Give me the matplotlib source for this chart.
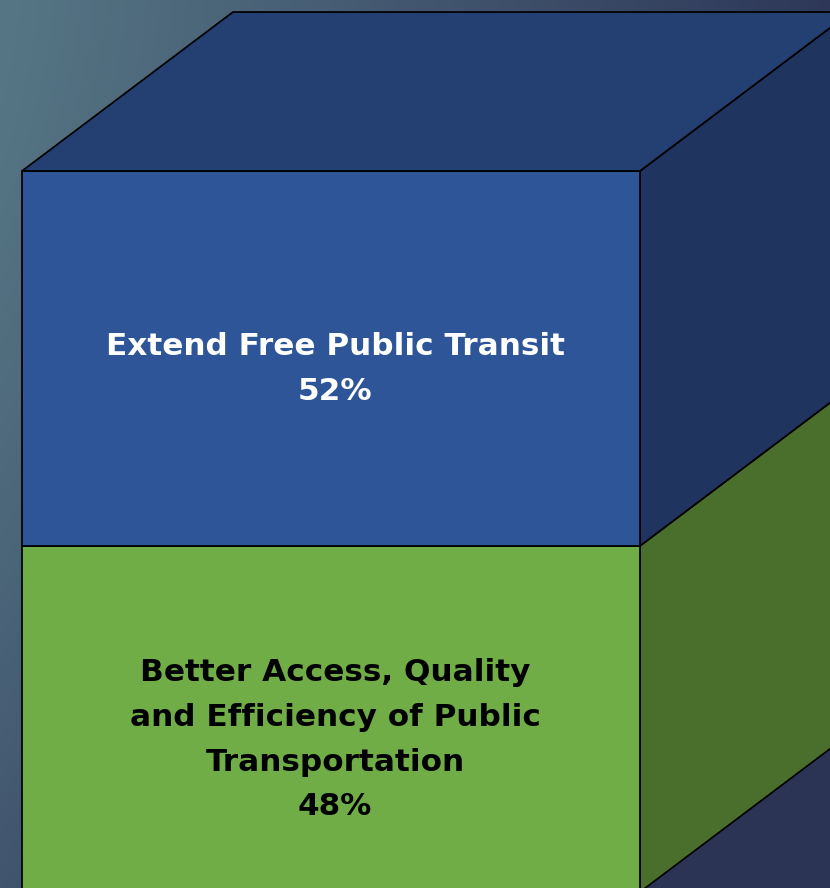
import numpy as np
import matplotlib
matplotlib.use("Agg")
import matplotlib.pyplot as plt
from matplotlib.patches import Polygon

# Survey result: share of respondents per priority (stacked 100% bar)
categories = [
    "Better Access, Quality\nand Efficiency of Public\nTransportation",
    "Extend Free Public Transit",
]
values = [48, 52]
front_colors = ["#70AD47", "#2E5597"]
side_colors = ["#4A6F2D", "#1F355F"]
top_color = "#243F71"
text_colors = ["black", "white"]
label_shift = [-2.9, -1.5]  # label nudge below segment middle, in percent units

W, H = 830, 888
fig = plt.figure(figsize=(W / 100, H / 100), dpi=100)
ax = fig.add_axes([0, 0, 1, 1])

# pixel-like horizontal units, percent on the vertical axis
px_per_pct = 7.21
y_bottom_px = 892
ax.set_xlim(0, W)
ax.set_ylim((y_bottom_px - H) / px_per_pct, y_bottom_px / px_per_pct)
ax.axis("off")

# background gradient (light teal at top-left, dark navy towards bottom-right)
gx, gy = np.meshgrid(np.linspace(0, 1, 400), np.linspace(0, 1, 400))
t = np.clip(0.95 * gx + 0.5 * gy ** 1.5, 0, 1)
c0 = np.array([86, 118, 133]) / 255
c1 = np.array([44, 52, 86]) / 255
grad = c0[None, None, :] * (1 - t[..., None]) + c1[None, None, :] * t[..., None]
y0, y1 = ax.get_ylim()
ax.imshow(grad, extent=(0, W, y0, y1), origin="upper", aspect="auto", zorder=0)

bar_left, bar_right = 22, 640
bar_center = (bar_left + bar_right) / 2
depth_x = 211
depth_y = 159 / px_per_pct
edge_kw = dict(edgecolor="black", linewidth=1.25)

bottoms = np.concatenate([[0], np.cumsum(values)[:-1]])
total = sum(values)

for v, b, fc, sc in zip(values, bottoms, front_colors, side_colors):
    side = Polygon([(bar_right, b), (bar_right + depth_x, b + depth_y),
                    (bar_right + depth_x, b + v + depth_y), (bar_right, b + v)],
                   closed=True, facecolor=sc, zorder=2, **edge_kw)
    ax.add_patch(side)

ax.bar(bar_center, values, bottom=bottoms, width=bar_right - bar_left,
       color=front_colors, zorder=3, **edge_kw)

top = Polygon([(bar_left, total), (bar_right, total),
               (bar_right + depth_x, total + depth_y),
               (bar_left + depth_x, total + depth_y)],
              closed=True, facecolor=top_color, zorder=4, **edge_kw)
ax.add_patch(top)

for cat, v, b, tc, sh in zip(categories, values, bottoms, text_colors, label_shift):
    ax.text(335, b + v / 2 + sh, f"{cat}\n{v}%", ha="center", va="center",
            color=tc, fontsize=22.4, fontweight="bold", family="DejaVu Sans",
            linespacing=1.68, zorder=5)

fig.savefig("out.png", dpi=100)
